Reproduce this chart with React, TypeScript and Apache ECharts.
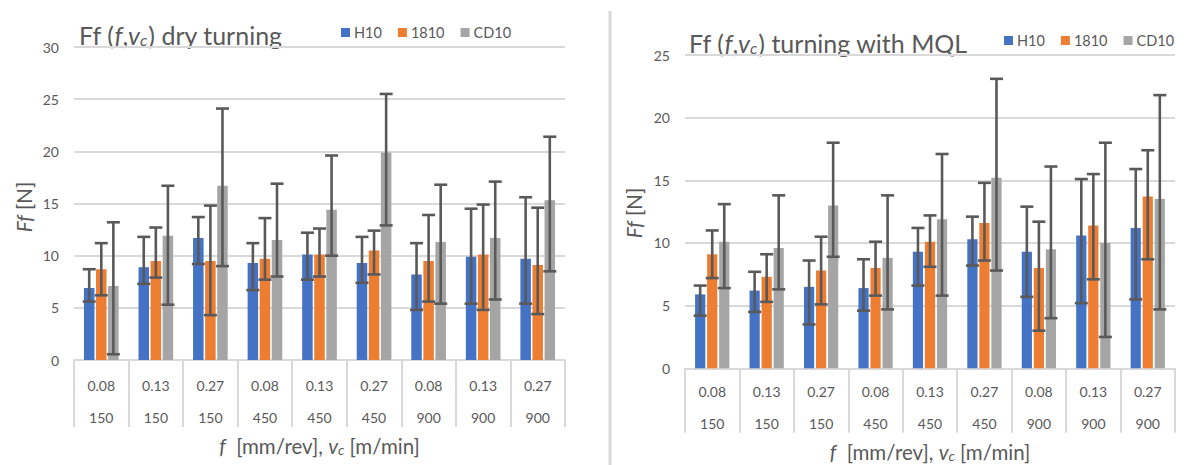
import React, { useEffect, useRef } from 'react';
import * as echarts from 'echarts';

const feedRates = ['0.08', '0.13', '0.27', '0.08', '0.13', '0.27', '0.08', '0.13', '0.27'];
const cuttingSpeeds = ['150', '150', '150', '450', '450', '450', '900', '900', '900'];
const seriesNames = ['H10', '1810', 'CD10'];

// Dry turning: mean, upper end and lower end of error bar
const dryH10 = [6.9, 8.9, 11.7, 9.3, 10.1, 9.3, 8.2, 9.9, 9.7];
const dryH10Hi = [8.7, 11.8, 13.7, 11.2, 12.2, 11.8, 11.2, 14.5, 15.6];
const dryH10Lo = [5.6, 7.3, 9.2, 6.7, 7.7, 7.4, 4.8, 5.4, 5.4];
const dry1810 = [8.7, 9.5, 9.5, 9.7, 10.1, 10.5, 9.5, 10.1, 9.1];
const dry1810Hi = [11.2, 12.7, 14.8, 13.6, 12.6, 12.4, 13.9, 14.9, 14.6];
const dry1810Lo = [6.2, 7.9, 4.3, 7.7, 8.0, 8.2, 5.6, 4.8, 4.4];
const dryCD10 = [7.1, 11.9, 16.7, 11.5, 14.4, 19.9, 11.3, 11.7, 15.3];
const dryCD10Hi = [13.2, 16.7, 24.1, 16.9, 19.6, 25.5, 16.8, 17.1, 21.4];
const dryCD10Lo = [0.55, 5.3, 9.0, 8.0, 10.0, 12.9, 5.4, 5.8, 8.5];

// Turning with MQL
const mqlH10 = [5.9, 6.2, 6.5, 6.4, 9.3, 10.3, 9.3, 10.6, 11.2];
const mqlH10Hi = [6.6, 7.7, 8.6, 8.7, 11.2, 12.1, 12.9, 15.1, 15.9];
const mqlH10Lo = [4.2, 4.5, 3.5, 4.6, 6.6, 8.2, 5.7, 5.2, 5.5];
const mql1810 = [9.1, 7.3, 7.8, 8.0, 10.1, 11.6, 8.0, 11.4, 13.7];
const mql1810Hi = [11.0, 9.1, 10.5, 10.1, 12.2, 14.8, 11.7, 15.5, 17.4];
const mql1810Lo = [7.2, 5.3, 5.1, 5.8, 8.1, 8.6, 3.0, 7.1, 8.7];
const mqlCD10 = [10.1, 9.6, 13.0, 8.8, 11.9, 15.2, 9.5, 10.0, 13.5];
const mqlCD10Hi = [13.1, 13.8, 18.0, 13.8, 17.1, 23.1, 16.1, 18.0, 21.8];
const mqlCD10Lo = [6.4, 6.3, 8.9, 4.7, 5.8, 7.8, 4.0, 2.5, 4.7];

const dryTicks = [0, 5, 10, 15, 20, 25, 30];
const mqlTicks = [0, 5, 10, 15, 20, 25];

const COLORS = ['#4472C4', '#ED7D31', '#A5A5A5'];
const TEXT = '#595959';
const GRID = '#D9D9D9';
const FONT = 'Lato';

export default function App() {
  const ref = useRef<HTMLDivElement>(null);

  useEffect(() => {
    document.body.style.margin = '0';
    const chart = echarts.init(ref.current!, undefined, { renderer: 'svg' });
    const categories = feedRates.map((f, i) => f + '\n' + cuttingSpeeds[i]);

    const panels = [
      {
        means: [dryH10, dry1810, dryCD10],
        his: [dryH10Hi, dry1810Hi, dryCD10Hi],
        los: [dryH10Lo, dry1810Lo, dryCD10Lo],
        ticks: dryTicks,
        barW: 10.5,
        gapPct: 15,
        grid: { left: 74, top: 47, width: 491, height: 313 },
        tickLen: 67,
        labelMargin: 9,
        legend: { left: 341, top: 25 },
      },
      {
        means: [mqlH10, mql1810, mqlCD10],
        his: [mqlH10Hi, mql1810Hi, mqlCD10Hi],
        los: [mqlH10Lo, mql1810Lo, mqlCD10Lo],
        ticks: mqlTicks,
        barW: 10.2,
        gapPct: 18,
        grid: { left: 685, top: 55, width: 490, height: 313.3 },
        tickLen: 64.5,
        labelMargin: 7,
        legend: { left: 1004, top: 33 },
      },
    ];

    const series: any[] = [];
    panels.forEach((p, pi) => {
      p.means.forEach((m, si) => {
        series.push({
          type: 'bar',
          name: seriesNames[si],
          xAxisIndex: pi,
          yAxisIndex: pi,
          data: m,
          barWidth: p.barW,
          barGap: p.gapPct + '%',
          itemStyle: { color: COLORS[si] },
          z: 2,
        });
      });
      p.means.forEach((m, si) => {
        const offset = (si - 1) * p.barW * (1 + p.gapPct / 100);
        series.push({
          type: 'custom',
          name: seriesNames[si] + ' error',
          xAxisIndex: pi,
          yAxisIndex: pi,
          z: 10,
          data: m.map((_, i) => [i, p.los[si][i], p.his[si][i]]),
          encode: { x: 0, y: [1, 2] },
          renderItem: (params: any, api: any) => {
            const top = api.coord([api.value(0), api.value(2)]);
            const bot = api.coord([api.value(0), api.value(1)]);
            const x = top[0] + offset;
            const style = { stroke: '#595959', lineWidth: 2.6 };
            const cap = 6.5;
            return {
              type: 'group',
              children: [
                { type: 'line', shape: { x1: x, y1: top[1], x2: x, y2: bot[1] }, style },
                { type: 'line', shape: { x1: x - cap, y1: top[1], x2: x + cap, y2: top[1] }, style },
                { type: 'line', shape: { x1: x - cap, y1: bot[1], x2: x + cap, y2: bot[1] }, style },
              ],
            };
          },
        });
      });
    });

    const richTitle = {
      n: { fontFamily: FONT, fontSize: 25, color: TEXT, fill: TEXT },
      i: { fontFamily: FONT, fontSize: 25, fontStyle: 'italic', color: TEXT, fill: TEXT },
      s: { fontFamily: FONT, fontSize: 16, fontStyle: 'italic', color: TEXT, fill: TEXT, verticalAlign: 'bottom', padding: [0, 1, 0, 0] },
    };
    const richAxis = {
      n: { fontFamily: FONT, fontSize: 20.5, color: TEXT, fill: TEXT },
      i: { fontFamily: FONT, fontSize: 20.5, fontStyle: 'italic', color: TEXT, fill: TEXT },
      s: { fontFamily: FONT, fontSize: 14, fontStyle: 'italic', color: TEXT, fill: TEXT, verticalAlign: 'bottom' },
    };

    const option: any = {
      animation: false,
      textStyle: { fontFamily: FONT },
      grid: panels.map((p) => ({ ...p.grid, containLabel: false })),
      legend: panels.map((p) => ({
        data: seriesNames,
        left: p.legend.left,
        top: p.legend.top,
        padding: 0,
        icon: 'rect',
        itemWidth: 9,
        itemHeight: 9,
        itemGap: 16,
        selectedMode: false,
        textStyle: { color: TEXT, fontSize: 14.5, fontFamily: FONT, padding: [0, 0, 0, -1] },
      })),
      xAxis: panels.map((p, pi) => ({
        type: 'category',
        gridIndex: pi,
        data: categories,
        boundaryGap: true,
        axisLine: { show: true, lineStyle: { color: GRID, width: 2 } },
        axisTick: { show: true, interval: 0, length: p.tickLen, lineStyle: { color: GRID, width: 2 } },
        axisLabel: { interval: 0, color: TEXT, fontSize: 14, fontFamily: FONT, lineHeight: 32, margin: p.labelMargin },
      })),
      yAxis: panels.map((p, pi) => ({
        type: 'value',
        gridIndex: pi,
        min: p.ticks[0],
        max: p.ticks[p.ticks.length - 1],
        interval: p.ticks[1] - p.ticks[0],
        axisLine: { show: false },
        axisTick: { show: false },
        splitLine: { lineStyle: { color: GRID, width: 2 } },
        axisLabel: { color: TEXT, fontSize: 14, fontFamily: FONT, margin: 15 },
      })),
      series,
      graphic: [
        { type: 'line', shape: { x1: 610, y1: 11, x2: 610, y2: 465 }, style: { stroke: GRID, lineWidth: 3 } },
        {
          type: 'text', x: 79, y: 35,
          style: { text: '{n|Ff (}{i|f}{n|,}{i|v}{s|c}{n|) dry turning}', rich: richTitle, verticalAlign: 'middle', align: 'left' },
        },
        {
          type: 'text', x: 689, y: 43,
          style: { text: '{n|Ff (}{i|f}{n|,}{i|v}{s|c}{n|) turning with MQL}', rich: richTitle, verticalAlign: 'middle', align: 'left' },
        },
        {
          type: 'text', x: 319.5, y: 446,
          style: { text: '{i|f}{n|  [mm/rev], }{i|v}{s|c}{n| [m/min]}', rich: richAxis, verticalAlign: 'middle', align: 'center' },
        },
        {
          type: 'text', x: 930, y: 452,
          style: { text: '{i|f}{n|  [mm/rev], }{i|v}{s|c}{n| [m/min]}', rich: richAxis, verticalAlign: 'middle', align: 'center' },
        },
        {
          type: 'text', x: 24, y: 207, rotation: Math.PI / 2,
          style: { text: '{i|Ff}{n| [N]}', rich: richAxis, verticalAlign: 'middle', align: 'center' },
        },
        {
          type: 'text', x: 634, y: 213, rotation: Math.PI / 2,
          style: { text: '{i|Ff}{n| [N]}', rich: richAxis, verticalAlign: 'middle', align: 'center' },
        },
      ],
    };

    chart.setOption(option);
    return () => chart.dispose();
  }, []);

  return <div ref={ref} style={{ width: 1187, height: 465, background: '#fff' }} />;
}
